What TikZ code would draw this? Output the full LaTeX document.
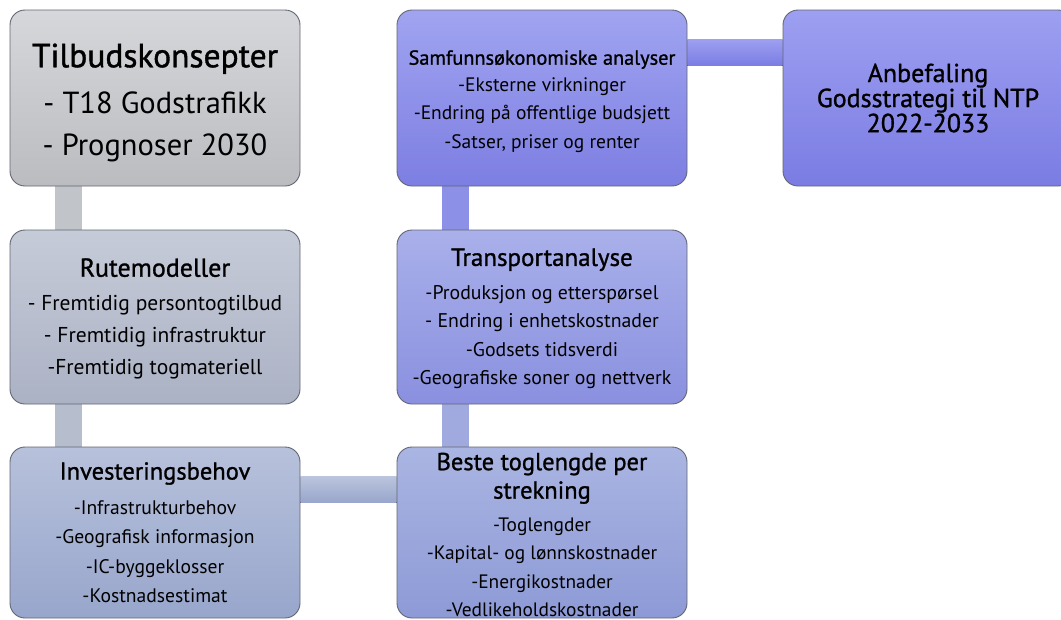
\documentclass[tikz,border=0pt]{standalone}
\usepackage{fontspec}
\setmainfont{PT Sans}
\newfontface\headface{PT Sans}[FakeBold=1.1]
\usetikzlibrary{backgrounds}

\definecolor{edgegray}{RGB}{98,102,116}
\definecolor{tilbudtop}{RGB}{213,215,218}
\definecolor{tilbudbot}{RGB}{186,188,191}
\definecolor{rutetop}{RGB}{198,203,216}
\definecolor{rutebot}{RGB}{171,178,196}
\definecolor{invtop}{RGB}{183,193,219}
\definecolor{invbot}{RGB}{152,166,204}
\definecolor{bestetop}{RGB}{170,181,226}
\definecolor{bestebot}{RGB}{141,154,214}
\definecolor{transtop}{RGB}{169,176,234}
\definecolor{transbot}{RGB}{138,144,223}
\definecolor{samftop}{RGB}{160,164,240}
\definecolor{samfbot}{RGB}{125,126,226}
\definecolor{anbtop}{RGB}{157,159,241}
\definecolor{anbbot}{RGB}{123,124,227}
\definecolor{barA}{RGB}{193,196,200}
\definecolor{barB}{RGB}{182,189,205}
\definecolor{barC}{RGB}{160,170,222}
\definecolor{barD}{RGB}{140,144,230}

\newcommand{\fs}[2]{\fontsize{#1}{#2}\selectfont}
\newcommand{\lift}[1]{\rule{0pt}{#1}}

\tikzset{
  stepbox/.style={draw=edgegray, line width=0.9pt, rounded corners=15pt,
    minimum width=290pt, inner sep=0pt, align=center}
}

\begin{document}
\begin{tikzpicture}[x=1pt,y=-1pt]
\useasboundingbox (0,0) rectangle (1061,619);

%Shape: Rounded Rect [left column]
\node [stepbox, minimum height=176pt, top color=tilbudtop, bottom color=tilbudbot, font=\fs{30.5}{42}] (tilbud) at (155,98)
  {\lift{33pt}\headface\fs{33.5}{44}Tilbudskonsepter\\[4pt]- T18 Godstrafikk\\- Prognoser 2030};
\node [stepbox, minimum height=174pt, top color=rutetop, bottom color=rutebot, font=\fs{21.5}{32}] (rute) at (155,317)
  {\lift{22pt}\headface\fs{26}{32}Rutemodeller\\[2pt]- Fremtidig persontogtilbud\\- Fremtidig infrastruktur\\-Fremtidig togmateriell};
\node [stepbox, minimum height=171pt, top color=invtop, bottom color=invbot, font=\fs{19.6}{29.5}] (invest) at (155,532.5)
  {\headface\fs{24.5}{30}Investeringsbehov\\[5pt]-Infrastrukturbehov\\-Geografisk informasjon\\-IC-byggeklosser\\-Kostnadsestimat};

%Shape: Rounded Rect [middle column]
\node [stepbox, minimum height=171pt, top color=bestetop, bottom color=bestebot, font=\fs{19.4}{28.5}] (beste) at (542,532.5)
  {\lift{22pt}\headface\fs{24.5}{29}Beste toglengde per\\\headface\fs{24.5}{29}strekning\\[4pt]-Toglengder\\-Kapital- og lønnskostnader\\-Energikostnader\\-Vedlikeholdskostnader};
\node [stepbox, minimum height=174pt, top color=transtop, bottom color=transbot, font=\fs{19.8}{28.5}] (trans) at (542,317)
  {\lift{21pt}\headface\fs{25}{29}Transportanalyse\\[5pt]-Produksjon og etterspørsel\\- Endring i enhetskostnader\\-Godsets tidsverdi\\-Geografiske soner og nettverk};
\node [stepbox, minimum height=176pt, top color=samftop, bottom color=samfbot, font=\fs{19.5}{28.5}] (samf) at (542,98)
  {\lift{21pt}\headface\fs{20.3}{28.5}Samfunnsøkonomiske analyser\\[-2pt]-Eksterne virkninger\\-Endring på offentlige budsjett\\-Satser, priser og renter};

%Shape: Rounded Rect [right]
\node [stepbox, minimum height=176pt, top color=anbtop, bottom color=anbbot, font=\headface\fs{26}{23.5}] (anbef) at (928,98)
  {Anbefaling\\Godsstrategi til NTP\\2022-2033};

%Shape: Rectangle [connecting bars]
\begin{scope}[on background layer]
\fill [barA] ([xshift=45pt]tilbud.south west) rectangle ([xshift=72pt]rute.north west);
\fill [barB] ([xshift=45pt]rute.south west) rectangle ([xshift=72pt]invest.north west);
\fill [top color=invtop!95!white, bottom color=invbot] ([yshift=-30pt]invest.north east) rectangle ([yshift=-56pt]beste.north west);
\fill [barC] ([xshift=45pt]trans.south west) rectangle ([xshift=72pt]beste.north west);
\fill [barD] ([xshift=45pt]samf.south west) rectangle ([xshift=72pt]trans.north west);
\fill [top color=anbtop, bottom color=anbbot] ([yshift=-30pt]samf.north east) rectangle ([yshift=-56pt]anbef.north west);
\end{scope}

\end{tikzpicture}
\end{document}
